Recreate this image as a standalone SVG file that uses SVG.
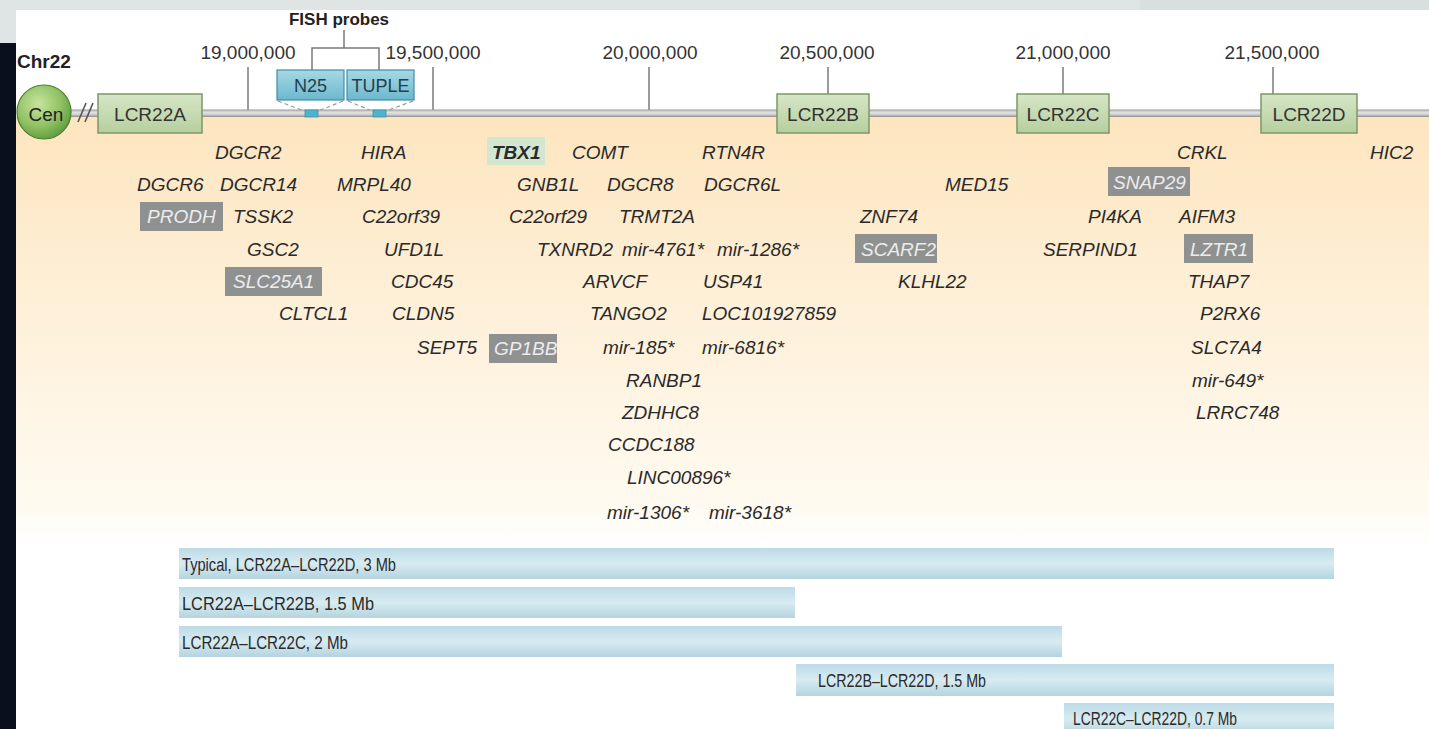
<svg xmlns="http://www.w3.org/2000/svg" width="1429" height="729" viewBox="0 0 1429 729">
<defs>
<linearGradient id="beige" x1="0" y1="0" x2="0" y2="1">
<stop offset="0" stop-color="#fde5bf"/>
<stop offset="0.45" stop-color="#fef0d9"/>
<stop offset="0.9" stop-color="#fffaf0"/>
<stop offset="1" stop-color="#ffffff"/>
</linearGradient>
<linearGradient id="lcr" x1="0" y1="0" x2="0" y2="1">
<stop offset="0" stop-color="#d6e6c6"/>
<stop offset="1" stop-color="#b6cf9e"/>
</linearGradient>
<linearGradient id="probe" x1="0" y1="0" x2="0" y2="1">
<stop offset="0" stop-color="#a6d8e6"/>
<stop offset="1" stop-color="#6cb8cd"/>
</linearGradient>
<linearGradient id="bar" x1="0" y1="0" x2="0" y2="1">
<stop offset="0" stop-color="#bcdbe6"/>
<stop offset="0.5" stop-color="#d8ebf1"/>
<stop offset="1" stop-color="#b4d4df"/>
</linearGradient>
<linearGradient id="chrom" x1="0" y1="0" x2="0" y2="1">
<stop offset="0" stop-color="#9a9a9a"/>
<stop offset="0.35" stop-color="#e2e2e2"/>
<stop offset="0.65" stop-color="#d2d2d2"/>
<stop offset="1" stop-color="#8f8f8f"/>
</linearGradient>
<radialGradient id="cen" cx="0.4" cy="0.35" r="0.7">
<stop offset="0" stop-color="#c8e49e"/>
<stop offset="0.6" stop-color="#8fc163"/>
<stop offset="1" stop-color="#5c9a3a"/>
</radialGradient>
</defs>
<style>
.g{font-family:"Liberation Sans",Arial,sans-serif;font-style:italic;font-size:19px;fill:#2a2a2a}
.gw{font-family:"Liberation Sans",Arial,sans-serif;font-style:italic;font-size:19px;fill:#ececec}
.hl{fill:#8f9191}
.tick{font-family:"Liberation Sans",Arial,sans-serif;font-size:19px;fill:#333;text-anchor:middle}
.lcrbox{fill:url(#lcr);stroke:#7b9868;stroke-width:1.5}
.lcrt{font-family:"Liberation Sans",Arial,sans-serif;font-size:19px;fill:#333;text-anchor:middle}
.pbox{fill:url(#probe);stroke:#3e8ea3;stroke-width:1.2}
.pt{font-family:"Liberation Sans",Arial,sans-serif;font-size:18px;fill:#22404b;text-anchor:middle}
.bar{fill:url(#bar)}
.bt{font-family:"Liberation Sans",Arial,sans-serif;font-size:18px;fill:#2a2a2a}
.ln{stroke:#7a7a7a;stroke-width:1.5;fill:none}
.dash{stroke:#9a9a9a;stroke-width:1.2;stroke-dasharray:4 3;fill:none}
.bold{font-family:"Liberation Sans",Arial,sans-serif;font-weight:bold;fill:#222}
</style>
<rect x="0" y="0" width="1429" height="729" fill="#ffffff"/>
<rect x="0" y="0" width="1429" height="10" fill="#dfe4e4"/>
<rect x="1140" y="0" width="289" height="10" fill="#d7dfdf"/>
<rect x="0" y="0" width="16" height="43" fill="#dfe4e4"/>
<rect x="0" y="43" width="16" height="686" fill="#0a0f1d"/>
<rect x="16" y="117" width="1413" height="430" fill="url(#beige)"/>

<g id="connectors">
<line class="ln" x1="248" y1="67" x2="248" y2="110"/>
<line class="ln" x1="433" y1="67" x2="433" y2="110"/>
<line class="ln" x1="649" y1="67" x2="649" y2="110"/>
<line class="ln" x1="828" y1="67" x2="828" y2="94"/>
<line class="ln" x1="1063" y1="67" x2="1063" y2="94"/>
<line class="ln" x1="1273" y1="67" x2="1273" y2="94"/>
<polyline class="ln" points="344,30 344,48"/>
<polyline class="ln" points="312,70 312,48 379,48 379,70"/>
<line class="dash" x1="278" y1="101" x2="304" y2="111"/>
<line class="dash" x1="343" y1="101" x2="318" y2="111"/>
<line class="dash" x1="348" y1="101" x2="372" y2="111"/>
<line class="dash" x1="413" y1="101" x2="386" y2="111"/>
</g>

<g id="chromosome">
<rect x="68" y="109.5" width="1361" height="7.5" fill="url(#chrom)"/>
<line x1="78" y1="122" x2="86" y2="103" stroke="#555" stroke-width="1.6"/>
<line x1="85" y1="122" x2="93" y2="103" stroke="#555" stroke-width="1.6"/>
</g>

<g id="title">
<text class="bold" x="17" y="68" font-size="19">Chr22</text>
</g>
<g id="fish-label"><text class="bold" x="339" y="25" font-size="17" text-anchor="middle">FISH probes</text></g>

<g id="ticks">
<text class="tick" x="248" y="59">19,000,000</text>
<text class="tick" x="433" y="59">19,500,000</text>
<text class="tick" x="650" y="59">20,000,000</text>
<text class="tick" x="827" y="59">20,500,000</text>
<text class="tick" x="1063" y="59">21,000,000</text>
<text class="tick" x="1272" y="59">21,500,000</text>
</g>

<g id="cen">
<circle cx="44" cy="112" r="27" fill="url(#cen)" stroke="#4d7d32" stroke-width="1.2"/>
<text x="46" y="121" font-family="Liberation Sans, Arial, sans-serif" font-size="19" fill="#222" text-anchor="middle">Cen</text>
</g>

<g id="LCR22A"><rect class="lcrbox" x="98" y="94" width="104" height="39"/><text class="lcrt" x="150" y="121">LCR22A</text></g>
<g id="LCR22B"><rect class="lcrbox" x="777" y="94" width="92" height="39"/><text class="lcrt" x="823" y="121">LCR22B</text></g>
<g id="LCR22C"><rect class="lcrbox" x="1017" y="94" width="92" height="39"/><text class="lcrt" x="1063" y="121">LCR22C</text></g>
<g id="LCR22D"><rect class="lcrbox" x="1261" y="94" width="96" height="39"/><text class="lcrt" x="1309" y="121">LCR22D</text></g>

<g id="N25"><rect class="pbox" x="277" y="70" width="67" height="30"/><text class="pt" x="310.5" y="92">N25</text><rect x="305" y="110" width="13" height="7" fill="#4fb3cc" stroke="#3a8fa6" stroke-width="0.8"/></g>
<g id="TUPLE"><rect class="pbox" x="347" y="70" width="67" height="30"/><text class="pt" x="380.5" y="92">TUPLE</text><rect x="373" y="110" width="13" height="7" fill="#4fb3cc" stroke="#3a8fa6" stroke-width="0.8"/></g>

<g id="genes">
<g id="DGCR2"><text class="g" x="215" y="159">DGCR2</text></g>
<g id="HIRA"><text class="g" x="361" y="159">HIRA</text></g>
<g id="TBX1"><rect x="487" y="137" width="58" height="28" fill="#d3e6cf"/><text class="g" x="492" y="159" font-weight="bold">TBX1</text></g>
<g id="COMT"><text class="g" x="572" y="159">COMT</text></g>
<g id="RTN4R"><text class="g" x="702" y="159">RTN4R</text></g>
<g id="CRKL"><text class="g" x="1177" y="159">CRKL</text></g>
<g id="HIC2"><text class="g" x="1370" y="159">HIC2</text></g>

<g id="DGCR6"><text class="g" x="137" y="191">DGCR6</text></g>
<g id="DGCR14"><text class="g" x="220" y="191">DGCR14</text></g>
<g id="MRPL40"><text class="g" x="337" y="191">MRPL40</text></g>
<g id="GNB1L"><text class="g" x="517" y="191">GNB1L</text></g>
<g id="DGCR8"><text class="g" x="607" y="191">DGCR8</text></g>
<g id="DGCR6L"><text class="g" x="704" y="191">DGCR6L</text></g>
<g id="MED15"><text class="g" x="945" y="191">MED15</text></g>
<g id="SNAP29"><rect class="hl" x="1108" y="167" width="82" height="29"/><text class="gw" x="1113" y="189">SNAP29</text></g>

<g id="PRODH"><rect class="hl" x="140" y="202" width="83" height="29"/><text class="gw" x="147" y="223">PRODH</text></g>
<g id="TSSK2"><text class="g" x="233" y="223">TSSK2</text></g>
<g id="C22orf39"><text class="g" x="362" y="223">C22orf39</text></g>
<g id="C22orf29"><text class="g" x="509" y="223">C22orf29</text></g>
<g id="TRMT2A"><text class="g" x="619" y="223">TRMT2A</text></g>
<g id="ZNF74"><text class="g" x="860" y="223">ZNF74</text></g>
<g id="PI4KA"><text class="g" x="1088" y="223">PI4KA</text></g>
<g id="AIFM3"><text class="g" x="1179" y="223">AIFM3</text></g>

<g id="GSC2"><text class="g" x="247" y="256">GSC2</text></g>
<g id="UFD1L"><text class="g" x="384" y="256">UFD1L</text></g>
<g id="TXNRD2"><text class="g" x="537" y="256">TXNRD2</text></g>
<g id="mir-4761"><text class="g" x="622" y="256">mir-4761*</text></g>
<g id="mir-1286"><text class="g" x="717" y="256">mir-1286*</text></g>
<g id="SCARF2"><rect class="hl" x="855" y="234" width="82" height="29"/><text class="gw" x="861" y="256">SCARF2</text></g>
<g id="SERPIND1"><text class="g" x="1043" y="256">SERPIND1</text></g>
<g id="LZTR1"><rect class="hl" x="1184" y="234" width="69" height="29"/><text class="gw" x="1190" y="256">LZTR1</text></g>

<g id="SLC25A1"><rect class="hl" x="225" y="267" width="97" height="29"/><text class="gw" x="233" y="288">SLC25A1</text></g>
<g id="CDC45"><text class="g" x="391" y="288">CDC45</text></g>
<g id="ARVCF"><text class="g" x="583" y="288">ARVCF</text></g>
<g id="USP41"><text class="g" x="703" y="288">USP41</text></g>
<g id="KLHL22"><text class="g" x="898" y="288">KLHL22</text></g>
<g id="THAP7"><text class="g" x="1188" y="288">THAP7</text></g>

<g id="CLTCL1"><text class="g" x="279" y="320">CLTCL1</text></g>
<g id="CLDN5"><text class="g" x="392" y="320">CLDN5</text></g>
<g id="TANGO2"><text class="g" x="590" y="320">TANGO2</text></g>
<g id="LOC101927859"><text class="g" x="702" y="320">LOC101927859</text></g>
<g id="P2RX6"><text class="g" x="1200" y="320">P2RX6</text></g>

<g id="SEPT5"><text class="g" x="417" y="354">SEPT5</text></g>
<g id="GP1BB"><rect class="hl" x="489" y="334" width="68" height="29"/><text class="gw" x="494" y="355">GP1BB</text></g>
<g id="mir-185"><text class="g" x="603" y="354">mir-185*</text></g>
<g id="mir-6816"><text class="g" x="702" y="354">mir-6816*</text></g>
<g id="SLC7A4"><text class="g" x="1191" y="354">SLC7A4</text></g>

<g id="RANBP1"><text class="g" x="626" y="387">RANBP1</text></g>
<g id="mir-649"><text class="g" x="1192" y="387">mir-649*</text></g>
<g id="ZDHHC8"><text class="g" x="622" y="419">ZDHHC8</text></g>
<g id="LRRC748"><text class="g" x="1196" y="419">LRRC748</text></g>
<g id="CCDC188"><text class="g" x="608" y="451">CCDC188</text></g>
<g id="LINC00896"><text class="g" x="627" y="484">LINC00896*</text></g>
<g id="mir-1306"><text class="g" x="607" y="519">mir-1306*</text></g>
<g id="mir-3618"><text class="g" x="709" y="519">mir-3618*</text></g>
</g>

<g id="deletions">
<g id="del-AD"><rect class="bar" x="179" y="548" width="1155" height="31"/><text class="bt" x="182" y="571" textLength="214" lengthAdjust="spacingAndGlyphs">Typical, LCR22A–LCR22D, 3 Mb</text></g>
<g id="del-AB"><rect class="bar" x="179" y="587" width="616" height="31"/><text class="bt" x="182" y="610" textLength="192" lengthAdjust="spacingAndGlyphs">LCR22A–LCR22B, 1.5 Mb</text></g>
<g id="del-AC"><rect class="bar" x="179" y="626" width="883" height="31"/><text class="bt" x="182" y="649" textLength="166" lengthAdjust="spacingAndGlyphs">LCR22A–LCR22C, 2 Mb</text></g>
<g id="del-BD"><rect class="bar" x="796" y="664" width="538" height="32"/><text class="bt" x="818" y="687" textLength="168" lengthAdjust="spacingAndGlyphs">LCR22B–LCR22D, 1.5 Mb</text></g>
<g id="del-CD"><rect class="bar" x="1064" y="703" width="270" height="32"/><text class="bt" x="1073" y="725" textLength="164" lengthAdjust="spacingAndGlyphs">LCR22C–LCR22D, 0.7 Mb</text></g>
</g>
</svg>
